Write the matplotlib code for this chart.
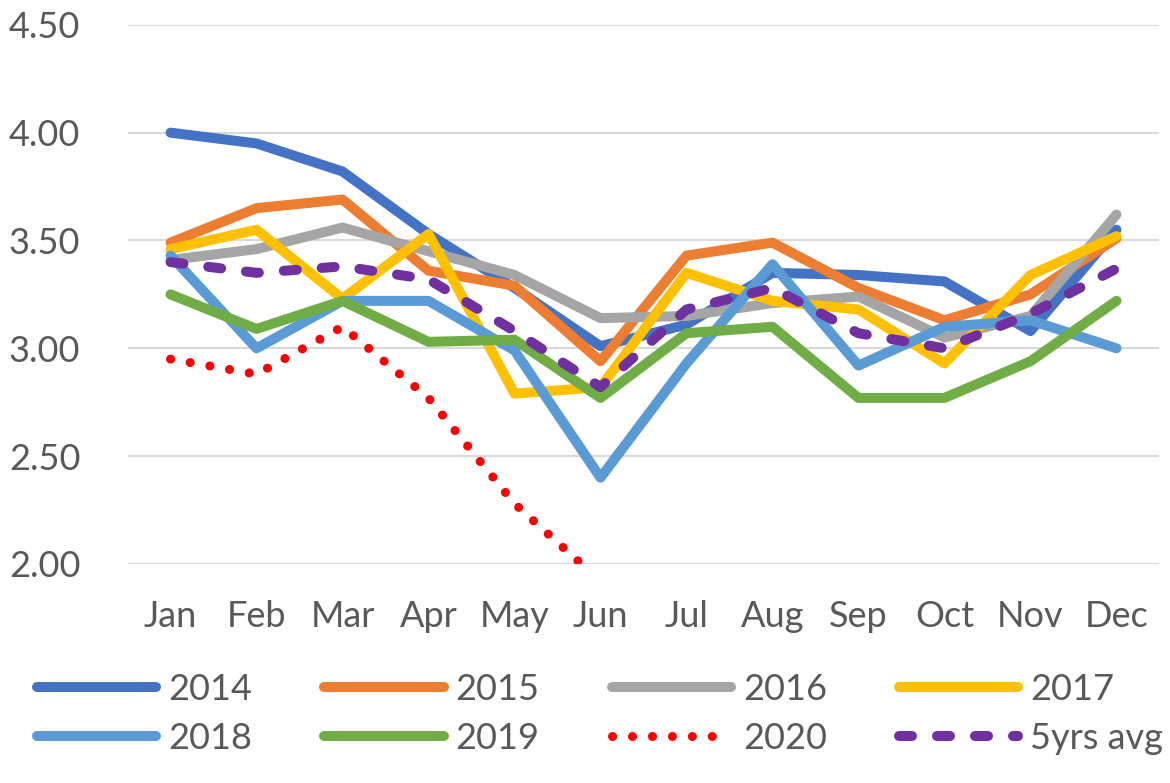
import matplotlib
matplotlib.use('Agg')
import matplotlib.pyplot as plt

months = ['Jan', 'Feb', 'Mar', 'Apr', 'May', 'Jun', 'Jul', 'Aug', 'Sep', 'Oct', 'Nov', 'Dec']

y2014 = [4.00, 3.95, 3.82, 3.53, 3.28, 3.01, 3.11, 3.35, 3.34, 3.31, 3.08, 3.55]
y2015 = [3.49, 3.65, 3.69, 3.36, 3.29, 2.94, 3.43, 3.49, 3.28, 3.13, 3.25, 3.51]
y2016 = [3.41, 3.46, 3.56, 3.45, 3.34, 3.14, 3.15, 3.21, 3.24, 3.05, 3.15, 3.62]
y2017 = [3.46, 3.55, 3.23, 3.53, 2.79, 2.82, 3.35, 3.22, 3.18, 2.93, 3.34, 3.52]
y2018 = [3.43, 3.00, 3.22, 3.22, 2.99, 2.40, 2.93, 3.39, 2.92, 3.10, 3.13, 3.00]
y2019 = [3.25, 3.09, 3.22, 3.03, 3.04, 2.77, 3.07, 3.10, 2.77, 2.77, 2.94, 3.22]
y2020 = [2.95, 2.88, 3.10, 2.77, 2.28, 1.92]
avg5 = [3.40, 3.35, 3.38, 3.32, 3.08, 2.82, 3.18, 3.28, 3.07, 3.00, 3.16, 3.37]

yticks = [2.0, 2.5, 3.0, 3.5, 4.0, 4.5]

plt.rcParams['font.family'] = ['Lato', 'DejaVu Sans']
txt = '#595959'
fs = 26

fig = plt.figure(figsize=(11.7, 7.83), dpi=100)
ax = fig.add_axes([0.109, 0.2797, 0.882, 0.6886])

x = list(range(12))
lw = 7.2
ax.plot(x, y2014, color='#4472C4', lw=lw, label='2014', solid_capstyle='round')
ax.plot(x, y2015, color='#ED7D31', lw=lw, label='2015', solid_capstyle='round')
ax.plot(x, y2016, color='#A5A5A5', lw=lw, label='2016', solid_capstyle='round')
ax.plot(x, y2017, color='#FFC000', lw=lw, label='2017', solid_capstyle='round')
ax.plot(x, y2018, color='#5B9BD5', lw=lw, label='2018', solid_capstyle='round')
ax.plot(x, y2019, color='#70AD47', lw=lw, label='2019', solid_capstyle='round')
ax.plot(x[:len(y2020)], y2020, color='#FF0000', lw=6.5, label='2020',
        linestyle=(0, (0.01, 2.2)), dash_capstyle='round')
ax.plot(x, avg5, color='#7030A0', lw=lw, label='5yrs avg',
        linestyle=(0, (1.3, 2.5)), dash_capstyle='round')

ax.set_xlim(-0.5, 11.5)
ax.set_ylim(2.0, 4.5)
ax.set_yticks(yticks)
ax.set_yticklabels(['%.2f' % t for t in yticks])
ax.set_xticks(x)
ax.set_xticklabels(months)
ax.grid(axis='y', color='#D9D9D9', lw=1.5)
ax.set_axisbelow(True)
for s in ax.spines.values():
    s.set_visible(False)
ax.tick_params(axis='y', length=0, pad=34, labelsize=fs, labelcolor=txt)
ax.tick_params(axis='x', length=0, pad=26, labelsize=fs, labelcolor=txt)

h, l = ax.get_legend_handles_labels()
order = [0, 4, 1, 5, 2, 6, 3, 7]
fig.legend([h[i] for i in order], [l[i] for i in order], ncol=4,
           loc='upper center', bbox_to_anchor=(0.513, 0.159), frameon=False,
           fontsize=fs, labelcolor=txt, handlelength=3.3, handletextpad=0.33,
           columnspacing=2.0, labelspacing=0.44, borderaxespad=0)

plt.savefig('out.png')
